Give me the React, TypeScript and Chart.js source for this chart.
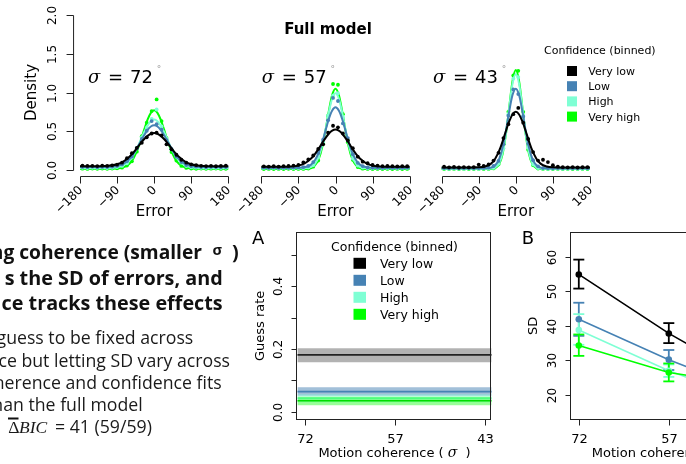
import React, { useEffect, useRef } from "react";
import { Chart, registerables } from "chart.js";

Chart.register(...registerables);

const W = 686;
const H = 464;

// ===================== DATA =====================
const confidenceLevels = ["Very low", "Low", "High", "Very high"];
const confidenceColors = ["#000000", "#4682B4", "#7FFFD4", "#00FF00"];
const coherenceSigmas = ["72", "57", "43"];

const errorTicks = [-180, -90, 0, 90, 180];
const errorTickLabels = ["\u2212180", "\u221290", "0", "90", "180"];
const densityTicks = [0, 0.5, 1, 1.5, 2];
const densityTickLabels = ["0.0", "0.5", "1.0", "1.5", "2.0"];
const guessTicks = [0, 0.1, 0.2, 0.3, 0.4, 0.5];
const guessTickLabels = ["0.0", "", "0.2", "", "0.4", ""];
const sdTicks = [20, 30, 40, 50, 60];
const sdTickLabels = ["20", "30", "40", "50", "60"];
const coherencePositions = [1, 2, 3];

// model curves (error in degrees -> density)
const curveX = [-180, -150, -120, -90, -75, -60, -50, -40, -32, -24, -16, -8, 0, 8, 16, 24, 32, 40, 50, 60, 75, 90, 120, 150, 180];

const curve72VeryLow = [0.045, 0.045, 0.048, 0.071, 0.107, 0.169, 0.226, 0.293, 0.348, 0.398, 0.439, 0.467, 0.476, 0.467, 0.439, 0.398, 0.348, 0.293, 0.226, 0.169, 0.107, 0.071, 0.048, 0.045, 0.045];
const curve72Low = [0.035, 0.035, 0.036, 0.048, 0.076, 0.138, 0.205, 0.294, 0.373, 0.449, 0.516, 0.56, 0.575, 0.56, 0.516, 0.449, 0.373, 0.294, 0.205, 0.138, 0.076, 0.048, 0.036, 0.035, 0.035];
const curve72High = [0.025, 0.025, 0.025, 0.034, 0.058, 0.12, 0.196, 0.297, 0.393, 0.489, 0.571, 0.629, 0.65, 0.629, 0.571, 0.489, 0.393, 0.297, 0.196, 0.12, 0.058, 0.034, 0.025, 0.025, 0.025];
const curve72VeryHigh = [0.015, 0.015, 0.015, 0.018, 0.031, 0.079, 0.151, 0.267, 0.387, 0.523, 0.649, 0.737, 0.77, 0.737, 0.649, 0.523, 0.387, 0.267, 0.151, 0.079, 0.031, 0.018, 0.015, 0.015, 0.015];

const curve57VeryLow = [0.04, 0.04, 0.041, 0.054, 0.082, 0.142, 0.203, 0.28, 0.349, 0.413, 0.47, 0.507, 0.52, 0.507, 0.47, 0.413, 0.349, 0.28, 0.203, 0.142, 0.082, 0.054, 0.041, 0.04, 0.04];
const curve57Low = [0.025, 0.025, 0.025, 0.026, 0.032, 0.064, 0.123, 0.233, 0.358, 0.511, 0.661, 0.768, 0.81, 0.768, 0.661, 0.511, 0.358, 0.233, 0.123, 0.064, 0.032, 0.026, 0.025, 0.025, 0.025];
const curve57High = [0.02, 0.02, 0.02, 0.02, 0.021, 0.036, 0.077, 0.179, 0.326, 0.526, 0.747, 0.922, 0.99, 0.922, 0.747, 0.526, 0.326, 0.179, 0.077, 0.036, 0.021, 0.02, 0.02, 0.02, 0.02];
const curve57VeryHigh = [0.01, 0.01, 0.01, 0.01, 0.011, 0.021, 0.056, 0.15, 0.299, 0.516, 0.765, 0.97, 1.05, 0.97, 0.765, 0.516, 0.299, 0.15, 0.056, 0.021, 0.011, 0.01, 0.01, 0.01, 0.01];

const curve43VeryLow = [0.03, 0.03, 0.03, 0.032, 0.042, 0.08, 0.144, 0.25, 0.368, 0.502, 0.625, 0.716, 0.75, 0.716, 0.625, 0.502, 0.368, 0.25, 0.144, 0.08, 0.042, 0.032, 0.03, 0.03, 0.03];
const curve43Low = [0.02, 0.02, 0.02, 0.02, 0.02, 0.029, 0.059, 0.146, 0.288, 0.503, 0.755, 0.967, 1.05, 0.967, 0.755, 0.503, 0.288, 0.146, 0.059, 0.029, 0.02, 0.02, 0.02, 0.02, 0.02];
const curve43High = [0.015, 0.015, 0.015, 0.015, 0.015, 0.017, 0.031, 0.092, 0.224, 0.468, 0.803, 1.111, 1.24, 1.111, 0.803, 0.468, 0.224, 0.092, 0.031, 0.017, 0.015, 0.015, 0.015, 0.015, 0.015];
const curve43VeryHigh = [0.01, 0.01, 0.01, 0.01, 0.01, 0.012, 0.023, 0.078, 0.205, 0.457, 0.81, 1.148, 1.29, 1.148, 0.81, 0.457, 0.205, 0.078, 0.023, 0.012, 0.01, 0.01, 0.01, 0.01, 0.01];

// binned empirical densities
const binX = [-174, -162, -150, -138, -126, -114, -102, -90, -78, -66, -54, -42, -30, -18, -6, 6, 18, 30, 42, 54, 66, 78, 90, 102, 114, 126, 138, 150, 162, 174];

const bins72VeryLow = [0.055, 0.05, 0.052, 0.048, 0.054, 0.05, 0.058, 0.066, 0.092, 0.15, 0.215, 0.285, 0.35, 0.42, 0.47, 0.48, 0.445, 0.33, 0.265, 0.195, 0.13, 0.092, 0.07, 0.06, 0.052, 0.048, 0.052, 0.046, 0.05, 0.053];
const bins72Low = [0.038, 0.034, 0.04, 0.033, 0.037, 0.036, 0.04, 0.05, 0.07, 0.112, 0.17, 0.28, 0.4, 0.505, 0.63, 0.59, 0.52, 0.385, 0.27, 0.17, 0.1, 0.062, 0.046, 0.04, 0.036, 0.033, 0.038, 0.035, 0.032, 0.036];
const bins72High = [0.027, 0.022, 0.026, 0.024, 0.028, 0.023, 0.026, 0.036, 0.05, 0.085, 0.16, 0.285, 0.42, 0.545, 0.66, 0.78, 0.56, 0.4, 0.265, 0.17, 0.092, 0.048, 0.033, 0.028, 0.024, 0.022, 0.027, 0.025, 0.023, 0.026];
const bins72VeryHigh = [0.015, 0.012, 0.017, 0.014, 0.016, 0.013, 0.017, 0.02, 0.028, 0.055, 0.11, 0.235, 0.435, 0.61, 0.76, 0.91, 0.63, 0.41, 0.23, 0.12, 0.05, 0.025, 0.017, 0.014, 0.016, 0.013, 0.015, 0.017, 0.012, 0.014];

const bins57VeryLow = [0.045, 0.042, 0.046, 0.04, 0.048, 0.05, 0.055, 0.065, 0.095, 0.135, 0.185, 0.27, 0.33, 0.48, 0.57, 0.55, 0.47, 0.38, 0.28, 0.17, 0.105, 0.085, 0.062, 0.055, 0.048, 0.052, 0.047, 0.044, 0.048, 0.046];
const bins57Low = [0.028, 0.025, 0.03, 0.024, 0.027, 0.026, 0.029, 0.031, 0.035, 0.05, 0.1, 0.215, 0.39, 0.64, 0.93, 0.89, 0.6, 0.41, 0.2, 0.09, 0.048, 0.03, 0.026, 0.027, 0.024, 0.029, 0.025, 0.027, 0.024, 0.028];
const bins57High = [0.022, 0.02, 0.024, 0.018, 0.021, 0.022, 0.019, 0.023, 0.022, 0.03, 0.06, 0.16, 0.36, 0.7, 0.96, 0.99, 0.68, 0.38, 0.145, 0.055, 0.028, 0.021, 0.02, 0.023, 0.019, 0.021, 0.022, 0.018, 0.021, 0.022];
const bins57VeryHigh = [0.01, 0.012, 0.009, 0.011, 0.01, 0.013, 0.009, 0.011, 0.012, 0.016, 0.04, 0.12, 0.34, 0.7, 1.11, 1.1, 0.72, 0.355, 0.13, 0.035, 0.015, 0.011, 0.01, 0.012, 0.009, 0.011, 0.01, 0.012, 0.009, 0.011];

const bins43VeryLow = [0.04, 0.032, 0.038, 0.03, 0.035, 0.031, 0.036, 0.068, 0.05, 0.07, 0.12, 0.22, 0.41, 0.59, 0.72, 0.8, 0.61, 0.4, 0.23, 0.12, 0.13, 0.1, 0.06, 0.04, 0.034, 0.031, 0.035, 0.03, 0.033, 0.036];
const bins43Low = [0.022, 0.02, 0.024, 0.019, 0.021, 0.023, 0.02, 0.022, 0.024, 0.028, 0.05, 0.115, 0.33, 0.7, 1.04, 0.98, 0.69, 0.34, 0.125, 0.045, 0.022, 0.021, 0.02, 0.023, 0.019, 0.022, 0.02, 0.021, 0.024, 0.02];
const bins43High = [0.016, 0.014, 0.017, 0.015, 0.013, 0.016, 0.015, 0.014, 0.016, 0.017, 0.025, 0.08, 0.28, 0.72, 1.18, 1.2, 0.7, 0.29, 0.07, 0.022, 0.016, 0.014, 0.015, 0.017, 0.013, 0.015, 0.016, 0.014, 0.015, 0.016];
const bins43VeryHigh = [0.01, 0.009, 0.011, 0.01, 0.012, 0.009, 0.01, 0.011, 0.01, 0.012, 0.018, 0.07, 0.33, 0.75, 1.22, 1.28, 0.75, 0.26, 0.06, 0.017, 0.011, 0.01, 0.009, 0.011, 0.01, 0.012, 0.01, 0.009, 0.011, 0.01];

// Panel A: guess rate (fixed across coherence), with interval
const guessRate = [0.181, 0.064, 0.043, 0.035];
const guessLower = [0.158, 0.051, 0.03, 0.021];
const guessUpper = [0.202, 0.078, 0.056, 0.048];

// Panel B: SD by coherence (72, 57, 43)
const sdVeryLow = [54.9, 37.8, 23.0];
const sdLow = [41.9, 30.2, 20.0];
const sdHigh = [38.8, 27.0, 17.5];
const sdVeryHigh = [34.3, 26.5, 22.5];
const sdVeryLowLo = [50.8, 35.0, 21.0];
const sdVeryLowHi = [59.2, 40.8, 25.0];
const sdLowLo = [37.1, 27.2, 18.5];
const sdLowHi = [46.7, 33.0, 21.5];
const sdHighLo = [34.5, 25.2, 16.0];
const sdHighHi = [43.4, 28.8, 19.0];
const sdVeryHighLo = [31.3, 23.9, 20.5];
const sdVeryHighHi = [37.5, 29.1, 24.5];

const modelCurves = [
  [curve72VeryLow, curve72Low, curve72High, curve72VeryHigh],
  [curve57VeryLow, curve57Low, curve57High, curve57VeryHigh],
  [curve43VeryLow, curve43Low, curve43High, curve43VeryHigh],
];
const binnedPoints = [
  [bins72VeryLow, bins72Low, bins72High, bins72VeryHigh],
  [bins57VeryLow, bins57Low, bins57High, bins57VeryHigh],
  [bins43VeryLow, bins43Low, bins43High, bins43VeryHigh],
];
const sdMeans = [sdVeryLow, sdLow, sdHigh, sdVeryHigh];
const sdLowers = [sdVeryLowLo, sdLowLo, sdHighLo, sdVeryHighLo];
const sdUppers = [sdVeryLowHi, sdLowHi, sdHighHi, sdVeryHighHi];

// ===================== LAYOUT =====================
const F = "'DejaVu Sans', sans-serif";
const FSERIF = "'DejaVu Serif', serif";
const FTXT = "'Open Sans', 'Noto Sans', sans-serif";
const AXIS = "#222";

const DENS_X = [-194.4, 194.4];
const DENS_Y = [-0.08, 2.08];
const densityAreas = [
  [74.07, 234.23],
  [255.4, 415.6],
  [435.7, 595.9],
];
const DENS_TOP = 9;
const DENS_BOTTOM = 176;
const sigmaLabelLeft = [88, 261.7, 433];

const COH_X = [0.91, 3.07];
const GUESS_Y = [-0.023, 0.57];
const SD_Y = [13, 67];
const PANEL_TOP = 232.7;
const PANEL_BOTTOM = 419;
const A_AREA = [297.3, 491.7];
const B_AREA = [570.7, 765.1];
const B_WIDTH = 800;

// ===================== HELPERS =====================
function txt(
  ctx: CanvasRenderingContext2D,
  s: string,
  x: number,
  y: number,
  font: string,
  align: CanvasTextAlign = "left",
  baseline: CanvasTextBaseline = "alphabetic",
  angle = 0,
  color = "#000"
) {
  ctx.save();
  ctx.font = font;
  ctx.fillStyle = color;
  ctx.textAlign = align;
  ctx.textBaseline = baseline;
  ctx.translate(x, y);
  if (angle) ctx.rotate(angle);
  ctx.fillText(s, 0, 0);
  ctx.restore();
}

function seg(ctx: CanvasRenderingContext2D, x1: number, y1: number, x2: number, y2: number, color = AXIS, w = 1) {
  ctx.save();
  ctx.strokeStyle = color;
  ctx.lineWidth = w;
  ctx.beginPath();
  ctx.moveTo(x1, y1);
  ctx.lineTo(x2, y2);
  ctx.stroke();
  ctx.restore();
}

const crisp = (v: number) => Math.round(v) + 0.5;

function baseOptions(left: number, right: number, width: number, xr: number[], yr: number[]) {
  return {
    responsive: false,
    animation: false,
    devicePixelRatio: 1,
    events: [],
    layout: { padding: { left, right: width - right, top: PANEL_TOP, bottom: H - PANEL_BOTTOM } },
    plugins: { legend: { display: false }, tooltip: { enabled: false }, title: { display: false } },
    scales: {
      x: { type: "linear", display: false, min: xr[0], max: xr[1] },
      y: { type: "linear", display: false, min: yr[0], max: yr[1] },
    },
  } as any;
}

// ===================== DENSITY PANELS =====================
function densityConfig(i: number) {
  const datasets: any[] = [];
  for (let k = 0; k < 4; k++) {
    datasets.push({
      data: curveX.map((x, j) => ({ x, y: modelCurves[i][k][j] })),
      borderColor: confidenceColors[k],
      borderWidth: 2,
      pointRadius: 0,
      cubicInterpolationMode: "monotone",
      fill: false,
      order: 2 * k,
    });
    datasets.push({
      data: binX.map((x, j) => ({ x, y: binnedPoints[i][k][j] })),
      showLine: false,
      pointRadius: 1.9,
      pointBackgroundColor: confidenceColors[k],
      pointBorderWidth: 0,
      borderColor: confidenceColors[k],
      backgroundColor: confidenceColors[k],
      order: 2 * k + 1,
    });
  }
  const [l, r] = densityAreas[i];
  const options = baseOptions(l, r, W, DENS_X, DENS_Y);
  options.layout.padding.top = DENS_TOP;
  options.layout.padding.bottom = H - DENS_BOTTOM;

  const plugin = {
    id: "densityAxes" + i,
    afterDraw(chart: any) {
      const { ctx, chartArea: a, scales } = chart;
      const x = scales.x;
      const y = scales.y;
      const axisY = a.bottom + 0.5;
      const x0 = crisp(x.getPixelForValue(errorTicks[0]));
      const x1 = crisp(x.getPixelForValue(errorTicks[errorTicks.length - 1]));
      seg(ctx, x0, axisY, x1, axisY);
      errorTicks.forEach((t, j) => {
        const px = crisp(x.getPixelForValue(t));
        seg(ctx, px, axisY, px, axisY + 7);
        txt(ctx, errorTickLabels[j], px + 0.5, axisY + 12, "12px " + F, "right", "middle", -Math.PI / 4);
      });
      const cx = (a.left + a.right) / 2;
      txt(ctx, "Error", cx, 216, "15px " + F, "center");

      // sigma label
      const sx = sigmaLabelLeft[i];
      txt(ctx, "\u03c3", sx, 83, "italic 18px " + FSERIF);
      txt(ctx, "=", sx + 20, 83, "18px " + F);
      txt(ctx, coherenceSigmas[i], sx + 42, 83, "18px " + F);
      txt(ctx, "\u00b0", sx + 71, 72, "9px " + F, "center", "alphabetic", 0, "#999");

      if (i === 0) {
        const axisX = a.left - 0.5;
        const yTop = crisp(y.getPixelForValue(densityTicks[densityTicks.length - 1]));
        const yBot = crisp(y.getPixelForValue(densityTicks[0]));
        seg(ctx, axisX, yTop, axisX, yBot);
        densityTicks.forEach((t, j) => {
          const py = crisp(y.getPixelForValue(t));
          seg(ctx, axisX - 7, py, axisX, py);
          txt(ctx, densityTickLabels[j], 52.5, py, "12px " + F, "center", "middle", -Math.PI / 2);
        });
        txt(ctx, "Density", 32.5, (a.top + a.bottom) / 2, "15px " + F, "center", "middle", -Math.PI / 2);
      }
      if (i === 1) {
        txt(ctx, "Full model", 328, 34, "bold 15px " + F, "center");
      }
      if (i === 2) {
        txt(ctx, "Confidence (binned)", 544, 54, "11px " + F);
        confidenceLevels.forEach((lab, k) => {
          const cy = 71 + k * 15.2;
          ctx.save();
          ctx.fillStyle = confidenceColors[k];
          ctx.fillRect(567, cy - 5, 10, 10);
          ctx.restore();
          txt(ctx, lab, 588.3, cy + 4, "11px " + F);
        });
      }
    },
  };

  return { type: "line", data: { datasets }, options, plugins: [plugin] } as any;
}

// ===================== PANEL A =====================
function guessConfig() {
  const datasets: any[] = [];
  const bandColors = ["rgba(0,0,0,0.3)", "rgba(70,130,180,0.5)", "rgba(127,255,212,0.4)", "rgba(0,255,0,0.4)"];
  const lineColors = ["#222222", "#4682B4", "#7FFFD4", "#00DD00"];
  for (let k = 0; k < 4; k++) {
    const base = datasets.length;
    const ord = (3 - k) * 3;
    datasets.push({
      data: COH_X.map((x) => ({ x, y: guessUpper[k] })),
      borderWidth: 0,
      pointRadius: 0,
      borderColor: "rgba(0,0,0,0)",
      backgroundColor: bandColors[k],
      fill: { target: base + 1 },
      order: ord + 2,
    });
    datasets.push({
      data: COH_X.map((x) => ({ x, y: guessLower[k] })),
      borderWidth: 0,
      pointRadius: 0,
      borderColor: "rgba(0,0,0,0)",
      fill: false,
      order: ord + 2,
    });
    datasets.push({
      data: COH_X.map((x) => ({ x, y: guessRate[k] })),
      borderWidth: 1.6,
      pointRadius: 0,
      borderColor: lineColors[k],
      fill: false,
      order: ord,
    });
  }
  const options = baseOptions(A_AREA[0], A_AREA[1], W, COH_X, GUESS_Y);

  const plugin = {
    id: "guessAxes",
    afterDraw(chart: any) {
      const { ctx, chartArea: a, scales } = chart;
      const x = scales.x;
      const y = scales.y;
      // box
      ctx.save();
      ctx.strokeStyle = AXIS;
      ctx.lineWidth = 1;
      ctx.strokeRect(crisp(a.left) - 1, crisp(a.top) - 1, Math.round(a.right - a.left), Math.round(a.bottom - a.top) + 1);
      ctx.restore();
      const lx = crisp(a.left) - 1;
      const by = crisp(a.bottom);
      guessTicks.forEach((t, j) => {
        const py = crisp(y.getPixelForValue(t));
        seg(ctx, lx - 5, py, lx, py);
        if (guessTickLabels[j]) txt(ctx, guessTickLabels[j], 279, py, "12px " + F, "center", "middle", -Math.PI / 2);
      });
      coherencePositions.forEach((p, j) => {
        const px = crisp(x.getPixelForValue(p));
        seg(ctx, px, by, px, by + 6);
        txt(ctx, coherenceSigmas[j], px, 442.7, "13px " + F, "center");
      });
      const cx = (a.left + a.right) / 2;
      drawCoherenceTitle(ctx, cx);
      txt(ctx, "Guess rate", 261, (a.top + a.bottom) / 2, "13px " + F, "center", "middle", -Math.PI / 2);
      txt(ctx, "A", 252, 244, "18px " + F);

      // legend
      txt(ctx, "Confidence (binned)", 394.5, 250.7, "12.5px " + F, "center");
      confidenceLevels.forEach((lab, k) => {
        const cy = 263.3 + k * 17;
        ctx.save();
        ctx.fillStyle = confidenceColors[k];
        ctx.fillRect(353.5, cy - 5.5, 12.5, 11);
        ctx.restore();
        txt(ctx, lab, 380, cy + 4.5, "12.5px " + F);
      });

      drawTextBlock(ctx);
    },
  };
  return { type: "line", data: { datasets }, options, plugins: [plugin] } as any;
}

function drawCoherenceTitle(ctx: CanvasRenderingContext2D, cx: number) {
  const f = "13px " + F;
  const fs = "italic 14px " + FSERIF;
  ctx.save();
  ctx.font = f;
  const w1 = ctx.measureText("Motion coherence ( ").width;
  const w3 = ctx.measureText("  )").width;
  ctx.font = fs;
  const w2 = ctx.measureText("\u03c3").width;
  ctx.restore();
  const total = w1 + w2 + w3;
  const x0 = cx - total / 2;
  txt(ctx, "Motion coherence ( ", x0, 456.5, f);
  txt(ctx, "\u03c3", x0 + w1, 456.5, fs);
  txt(ctx, "  )", x0 + w1 + w2, 456.5, f);
}

function drawTextBlock(ctx: CanvasRenderingContext2D) {
  const hb = "bold 19.8px " + FTXT;
  txt(ctx, ")", 238.7, 259, hb, "right", "alphabetic", 0, "#111");
  txt(ctx, "\u03c3", 212.5, 254.5, "bold 14.5px " + FTXT, "left", "alphabetic", 0, "#111");
  txt(ctx, "ng coherence (smaller", 202, 259, "bold 19.2px " + FTXT, "right", "alphabetic", 0, "#111");
  txt(ctx, "s the SD of errors, and", 222.7, 284.5, hb, "right", "alphabetic", 0, "#111");
  txt(ctx, "ce tracks these effects", 222.7, 309.5, hb, "right", "alphabetic", 0, "#111");

  const bf = "17.7px " + FTXT;
  txt(ctx, "guess to be fixed across", 193.3, 344, bf, "right", "alphabetic", 0, "#1a1a1a");
  txt(ctx, "ce but letting SD vary across", 230, 366.5, bf, "right", "alphabetic", 0, "#1a1a1a");
  txt(ctx, "herence and confidence fits", 221.7, 388.5, bf, "right", "alphabetic", 0, "#1a1a1a");
  txt(ctx, "han the full model", 142.7, 410.5, bf, "right", "alphabetic", 0, "#1a1a1a");

  txt(ctx, "\u0394", 8.3, 433, "17.5px 'Liberation Serif', serif", "left", "alphabetic", 0, "#1a1a1a");
  ctx.save();
  ctx.fillStyle = "#111";
  ctx.fillRect(8, 417.5, 10.5, 2);
  ctx.restore();
  txt(ctx, "BIC", 19, 433, "italic 17.5px 'Liberation Serif', serif", "left", "alphabetic", 0, "#1a1a1a");
  txt(ctx, "= 41 (59/59)", 55, 433, bf, "left", "alphabetic", 0, "#1a1a1a");
}

// ===================== PANEL B =====================
function sdConfig() {
  const datasets: any[] = [];
  for (let k = 0; k < 4; k++) {
    datasets.push({
      data: coherencePositions.map((p, j) => ({ x: p, y: sdMeans[k][j] })),
      borderColor: confidenceColors[k],
      backgroundColor: confidenceColors[k],
      borderWidth: 1.6,
      pointRadius: 3.3,
      pointBackgroundColor: confidenceColors[k],
      pointBorderWidth: 0,
      fill: false,
      order: 3 - k,
    });
  }
  const options = baseOptions(B_AREA[0], B_AREA[1], B_WIDTH, COH_X, SD_Y);

  const plugin = {
    id: "sdAxes",
    beforeDatasetsDraw(chart: any) {
      const { ctx, scales } = chart;
      const x = scales.x;
      const y = scales.y;
      for (let k = 0; k < 4; k++) {
        coherencePositions.forEach((p, j) => {
          const px = x.getPixelForValue(p);
          const lo = y.getPixelForValue(sdLowers[k][j]);
          const hi = y.getPixelForValue(sdUppers[k][j]);
          seg(ctx, px, lo, px, hi, confidenceColors[k], 1.8);
          seg(ctx, px - 5.5, lo, px + 5.5, lo, confidenceColors[k], 1.8);
          seg(ctx, px - 5.5, hi, px + 5.5, hi, confidenceColors[k], 1.8);
        });
      }
    },
    afterDraw(chart: any) {
      const { ctx, chartArea: a, scales } = chart;
      const x = scales.x;
      const y = scales.y;
      ctx.save();
      ctx.strokeStyle = AXIS;
      ctx.lineWidth = 1;
      ctx.strokeRect(crisp(a.left) - 1, crisp(a.top) - 1, Math.round(a.right - a.left), Math.round(a.bottom - a.top) + 1);
      ctx.restore();
      const lx = crisp(a.left) - 1;
      const by = crisp(a.bottom);
      sdTicks.forEach((t, j) => {
        const py = crisp(y.getPixelForValue(t));
        seg(ctx, lx - 5, py, lx, py);
        txt(ctx, sdTickLabels[j], 552.5, py, "12px " + F, "center", "middle", -Math.PI / 2);
      });
      coherencePositions.forEach((p, j) => {
        const px = crisp(x.getPixelForValue(p));
        seg(ctx, px, by, px, by + 6);
        txt(ctx, coherenceSigmas[j], px, 442.7, "13px " + F, "center");
      });
      drawCoherenceTitle(ctx, (a.left + a.right) / 2);
      txt(ctx, "SD", 534, (a.top + a.bottom) / 2, "13px " + F, "center", "middle", -Math.PI / 2);
      txt(ctx, "B", 521.7, 244, "18px " + F);
    },
  };
  return { type: "line", data: { datasets }, options, plugins: [plugin] } as any;
}

// ===================== COMPONENTS =====================
function ChartCanvas({ width, height, make }: { width: number; height: number; make: () => any }) {
  const ref = useRef<HTMLCanvasElement>(null);
  useEffect(() => {
    const chart = new Chart(ref.current as HTMLCanvasElement, make());
    return () => chart.destroy();
  }, []);
  return (
    <canvas
      ref={ref}
      width={width}
      height={height}
      style={{ position: "absolute", left: 0, top: 0, width, height }}
    />
  );
}

export default function App() {
  return (
    <div
      style={{
        position: "fixed",
        left: 0,
        top: 0,
        width: W,
        height: H,
        overflow: "hidden",
        background: "#fff",
      }}
    >
      <ChartCanvas width={W} height={H} make={() => guessConfig()} />
      <ChartCanvas width={B_WIDTH} height={H} make={() => sdConfig()} />
      <ChartCanvas width={W} height={H} make={() => densityConfig(0)} />
      <ChartCanvas width={W} height={H} make={() => densityConfig(1)} />
      <ChartCanvas width={W} height={H} make={() => densityConfig(2)} />
    </div>
  );
}
